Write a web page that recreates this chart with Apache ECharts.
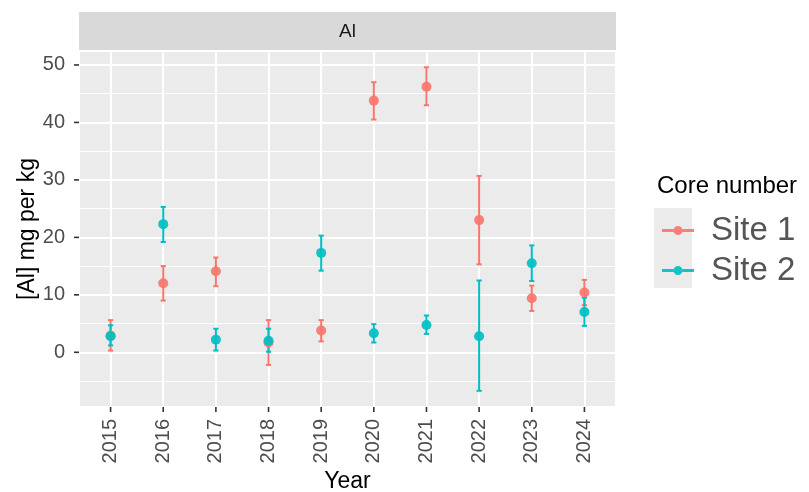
<!DOCTYPE html>
<html>
<head>
<meta charset="utf-8">
<script src="https://cdn.jsdelivr.net/npm/echarts@6/dist/echarts.min.js"></script>
<style>
html,body{margin:0;padding:0;background:#fff;}
#chart{width:809px;height:492px;}
</style>
</head>
<body>
<div id="chart"></div>
<script>
// ---- data ----
const years = [2015, 2016, 2017, 2018, 2019, 2020, 2021, 2022, 2023, 2024];
const site1Mean = [2.9, 12.0, 14.1, 1.7, 3.8, 43.8, 46.2, 23.0, 9.4, 10.4];
const site1Low  = [0.3, 9.0, 11.5, -2.2, 1.9, 40.5, 43.0, 15.3, 7.2, 8.2];
const site1High = [5.6, 15.0, 16.5, 5.6, 5.6, 47.0, 49.6, 30.7, 11.6, 12.6];
const site2Mean = [2.8, 22.3, 2.2, 2.0, 17.3, 3.3, 4.75, 2.8, 15.5, 7.0];
const site2Low  = [1.2, 19.2, 0.3, 0.1, 14.2, 1.7, 3.2, -6.7, 12.4, 4.6];
const site2High = [4.7, 25.3, 4.1, 4.1, 20.3, 4.9, 6.4, 12.5, 18.6, 9.5];
const yTicks = [0, 10, 20, 30, 40, 50];
const seriesNames = ['Site 1', 'Site 2'];
const facetLabel = 'Al';
const legendTitle = 'Core number';
const xTitle = 'Year';
const yTitle = '[Al] mg per kg';

// ---- layout / style ----
const colors = ['#F8766D', '#00BFC4'];
const xMin = 2014.4, xMax = 2024.6;
const yMin = -9.52, yMax = 52.43;
const gridL = 79, gridT = 51, gridW = 537, gridH = 356;
const font = "'Liberation Sans', Arial, sans-serif";

function meanData(m) { return years.map((y, i) => [y, m[i]]); }
function barData(lo, hi) { return years.map((y, i) => [y, lo[i], hi[i]]); }

function errorBar(color) {
  return function (params, api) {
    const x = api.value(0);
    const pLo = api.coord([x, api.value(1)]);
    const pHi = api.coord([x, api.value(2)]);
    const hw = 2.6;
    const st = { stroke: color, lineWidth: 2 };
    return {
      type: 'group',
      children: [
        { type: 'line', shape: { x1: pLo[0], y1: pLo[1], x2: pHi[0], y2: pHi[1] }, style: st },
        { type: 'line', shape: { x1: pLo[0] - hw, y1: pLo[1], x2: pLo[0] + hw, y2: pLo[1] }, style: st },
        { type: 'line', shape: { x1: pHi[0] - hw, y1: pHi[1], x2: pHi[0] + hw, y2: pHi[1] }, style: st }
      ]
    };
  };
}

function xTick(params, api) {
  const p = api.coord([api.value(0), yMin]);
  return { type: 'line', shape: { x1: p[0], y1: p[1], x2: p[0], y2: p[1] + 5 }, style: { stroke: '#333', lineWidth: 1.6 } };
}
function yTick(params, api) {
  const p = api.coord([xMin, api.value(1)]);
  return { type: 'line', shape: { x1: p[0] - 5, y1: p[1], x2: p[0], y2: p[1] }, style: { stroke: '#333', lineWidth: 1.6 } };
}

const chart = echarts.init(document.getElementById('chart'), null, { renderer: 'canvas' });

const option = {
  animation: false,
  backgroundColor: '#fff',
  textStyle: { fontFamily: font },
  title: {
    text: legendTitle,
    left: 652, top: 169,
    textStyle: { fontFamily: font, fontSize: 24, fontWeight: 'normal', color: '#000' }
  },
  graphic: [
    { type: 'rect', shape: { x: gridL, y: 12, width: gridW, height: gridT - 12 }, style: { fill: '#D9D9D9' }, silent: true },
    { type: 'text', x: gridL + gridW / 2, y: 31.5, style: { text: facetLabel, fontFamily: font, fontSize: 19, fill: '#1A1A1A', align: 'center', verticalAlign: 'middle' }, silent: true },
    { type: 'rect', shape: { x: 654, y: 208, width: 38, height: 80 }, style: { fill: '#EBEBEB' }, silent: true, z: -1 }
  ],
  legend: {
    data: seriesNames,
    orient: 'vertical',
    left: 657, top: 209,
    itemWidth: 32, itemHeight: 10,
    itemGap: 7,
    icon: 'path://M0,3.6h11.6v2.8H0z M20.4,3.6h11.6v2.8h-11.6z M11.5,5a4.5,4.5 0 1,0 9,0a4.5,4.5 0 1,0 -9,0z',
    textStyle: { fontFamily: font, fontSize: 33, lineHeight: 33, color: '#555', padding: [0, 0, 0, 12] },
    selectedMode: false
  },
  grid: {
    left: gridL, top: gridT, width: gridW, height: gridH,
    show: true, backgroundColor: '#EBEBEB', borderWidth: 0,
    containLabel: false, outerBoundsMode: 'none'
  },
  xAxis: {
    type: 'value', min: xMin, max: xMax, minInterval: 1, maxInterval: 1,
    name: xTitle, nameLocation: 'middle', nameGap: 63, nameMoveOverlap: false,
    nameTextStyle: { fontFamily: font, fontSize: 23, color: '#000' },
    axisLine: { show: false }, axisTick: { show: false },
    axisLabel: {
      rotate: 90, margin: 12, fontFamily: font, fontSize: 20, color: '#4D4D4D',
      showMinLabel: false, showMaxLabel: false,
      formatter: v => String(Math.round(v))
    },
    splitLine: { show: true, lineStyle: { color: '#FFFFFF', width: 2 } }
  },
  yAxis: [
    {
      type: 'value', min: yMin, max: yMax, minInterval: 10, maxInterval: 10,
      name: yTitle, nameLocation: 'middle', nameGap: 40, nameRotate: 90, nameMoveOverlap: false,
      nameTextStyle: { fontFamily: font, fontSize: 23, color: '#000' },
      axisLine: { show: false }, axisTick: { show: false },
      axisLabel: {
        margin: 14, fontFamily: font, fontSize: 20, color: '#4D4D4D',
        showMinLabel: false, showMaxLabel: false
      },
      splitLine: { show: true, lineStyle: { color: '#FFFFFF', width: 2 } }
    },
    {
      type: 'value', min: yMin, max: yMax, minInterval: 5, maxInterval: 5,
      position: 'left',
      axisLine: { show: false }, axisTick: { show: false }, axisLabel: { show: false },
      splitLine: { show: true, lineStyle: { color: '#FFFFFF', width: 1.1 } }
    }
  ],
  series: [
    { name: 'xticks', type: 'custom', clip: false, silent: true, renderItem: xTick, data: years.map(y => [y, yMin]), z: 1 },
    { name: 'yticks', type: 'custom', clip: false, silent: true, renderItem: yTick, data: yTicks.map(v => [xMin, v]), z: 1 },
    { name: 'Site 1 err', type: 'custom', renderItem: errorBar(colors[0]), data: barData(site1Low, site1High), z: 2, silent: true },
    { name: 'Site 2 err', type: 'custom', renderItem: errorBar(colors[1]), data: barData(site2Low, site2High), z: 2, silent: true },
    { name: seriesNames[0], type: 'scatter', data: meanData(site1Mean), symbolSize: 10, itemStyle: { color: colors[0], opacity: 0.92 }, z: 3 },
    { name: seriesNames[1], type: 'scatter', data: meanData(site2Mean), symbolSize: 10, itemStyle: { color: colors[1], opacity: 0.92 }, z: 3 }
  ]
};
chart.setOption(option);
</script>
</body>
</html>
